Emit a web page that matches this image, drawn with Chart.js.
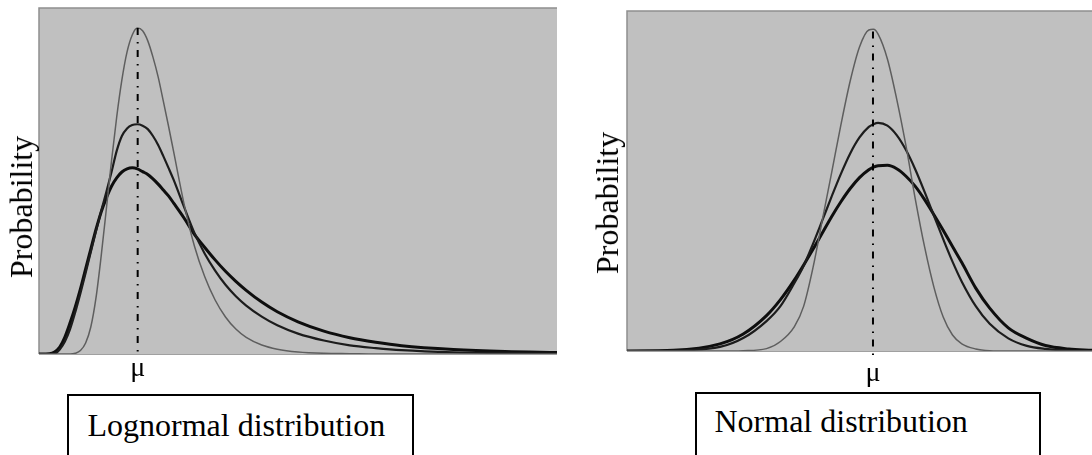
<!DOCTYPE html>
<html><head><meta charset="utf-8">
<script src="https://cdn.jsdelivr.net/npm/chart.js@4.4.1/dist/chart.umd.min.js"></script>
<style>
html,body{margin:0;padding:0;background:#fff;width:1092px;height:455px;overflow:hidden;}
#wrap{position:relative;width:1092px;height:455px;}
canvas{position:absolute;}
.t{position:absolute;font-family:"Liberation Serif","Times New Roman",serif;color:#000;white-space:nowrap;}
.ylab{font-size:32px;line-height:32px;transform:translate(-50%,-50%) rotate(-90deg);}
.mu{font-size:28px;line-height:28px;width:60px;text-align:center;}
.box{position:absolute;border:2px solid #000;box-sizing:border-box;height:120px;}
.btxt{font-size:32px;line-height:32px;}
</style></head><body>
<div id="wrap">
<canvas id="c1" width="560" height="360" style="left:0px;top:0px"></canvas>
<canvas id="c2" width="492" height="360" style="left:600px;top:0px"></canvas>
<div class="t ylab" id="yl1" style="left:20.7px;top:207px"></div>
<div class="t ylab" id="yl2" style="left:606.7px;top:203px"></div>
<div class="t mu" id="mu1"></div>
<div class="t mu" id="mu2"></div>
<div class="box" style="left:66.5px;top:394px;width:347px"></div>
<div class="box" style="left:695px;top:392px;width:346px"></div>
<div class="t btxt" id="bt1" style="left:87.5px;top:409.2px"></div>
<div class="t btxt" id="bt2" style="left:714.5px;top:405.2px"></div>
</div>
<script>
// ---- text ----
const Y_TITLE = 'Probability';
const MU_LABEL = '\u03BC';
const PANEL_TITLES = ['Lognormal distribution', 'Normal distribution'];

// ---- Lognormal panel (x: 0-100 across the panel, y: 0-1 of panel height) ----
const LOG_MU = 19.05;
const LOG_MU_TOP = 0.942;
const LOG_X = [0, 2, 3, 4, 5, 6, 7, 8, 9, 10, 11, 12, 13, 14, 15, 16, 17, 18, 19, 20, 21, 22, 23, 24, 25, 26, 28, 30, 32, 34, 36, 38, 40, 43, 46, 50, 55, 60, 65, 70, 80, 90, 100];
const LOG_NARROW = [0, 0, 0, 0, 0, 0, 0.002, 0.010, 0.032, 0.078, 0.162, 0.283, 0.419, 0.558, 0.685, 0.792, 0.873, 0.922, 0.942, 0.934, 0.905, 0.858, 0.801, 0.731, 0.659, 0.584, 0.434, 0.312, 0.223, 0.156, 0.107, 0.072, 0.048, 0.026, 0.014, 0.006, 0.002, 0.001, 0, 0, 0, 0, 0];
const LOG_MEDIUM = [0, 0, 0.001, 0.013, 0.036, 0.072, 0.121, 0.176, 0.234, 0.295, 0.355, 0.413, 0.468, 0.526, 0.587, 0.630, 0.652, 0.662, 0.664, 0.660, 0.650, 0.630, 0.604, 0.572, 0.538, 0.503, 0.425, 0.350, 0.290, 0.241, 0.200, 0.167, 0.140, 0.108, 0.083, 0.059, 0.039, 0.025, 0.017, 0.011, 0.005, 0.003, 0.001];
const LOG_WIDE = [0, 0.001, 0.006, 0.020, 0.049, 0.090, 0.136, 0.188, 0.246, 0.303, 0.360, 0.410, 0.451, 0.485, 0.509, 0.526, 0.535, 0.538, 0.535, 0.527, 0.519, 0.506, 0.491, 0.474, 0.457, 0.436, 0.393, 0.346, 0.308, 0.272, 0.239, 0.210, 0.184, 0.150, 0.122, 0.093, 0.066, 0.047, 0.034, 0.024, 0.013, 0.007, 0.004];

// ---- Normal panel ----
const NORM_MU = 52.9;
const NORM_MU_TOP = 0.94;
const NORM_X = [0, 10, 20, 25, 30, 33, 36, 38, 40, 42, 44, 46, 48, 50, 52, 53, 54, 56, 58, 60, 62, 64, 66, 68, 70, 72, 75, 78, 82, 86, 90, 95, 100];
const NORM_NARROW = [0, 0, 0, 0.001, 0.007, 0.028, 0.072, 0.132, 0.245, 0.385, 0.524, 0.665, 0.794, 0.894, 0.944, 0.946, 0.932, 0.859, 0.741, 0.603, 0.447, 0.306, 0.188, 0.100, 0.047, 0.021, 0.006, 0.001, 0, 0, 0, 0, 0];
const NORM_MEDIUM = [0, 0.0015, 0.012, 0.038, 0.088, 0.132, 0.200, 0.251, 0.315, 0.384, 0.454, 0.521, 0.581, 0.628, 0.659, 0.667, 0.671, 0.663, 0.635, 0.591, 0.534, 0.468, 0.398, 0.329, 0.263, 0.204, 0.132, 0.080, 0.037, 0.015, 0.006, 0.001, 0];
const NORM_WIDE = [0, 0.002, 0.021, 0.050, 0.104, 0.151, 0.209, 0.253, 0.299, 0.347, 0.395, 0.439, 0.478, 0.510, 0.533, 0.541, 0.545, 0.546, 0.536, 0.514, 0.484, 0.445, 0.401, 0.355, 0.307, 0.260, 0.185, 0.126, 0.068, 0.037, 0.016, 0.006, 0.002];

const zip = (xs, ys) => xs.map((x, i) => ({x, y: ys[i]}));

const panelBg = {
  id: 'panelBg',
  beforeDatasetsDraw(chart) {
    const {ctx, chartArea: a} = chart;
    ctx.save();
    ctx.fillStyle = '#c0c0c0';
    ctx.fillRect(a.left, a.top, a.right - a.left, a.bottom - a.top);
    ctx.strokeStyle = '#8e8e8e';
    ctx.lineWidth = 1.5;
    ctx.beginPath();
    ctx.moveTo(a.left, a.bottom);
    ctx.lineTo(a.left, a.top);
    ctx.lineTo(a.right, a.top);
    ctx.stroke();
    ctx.strokeStyle = '#a0a0a0';
    ctx.lineWidth = 1;
    ctx.beginPath();
    ctx.moveTo(a.left, a.bottom + 0.5);
    ctx.lineTo(a.right, a.bottom + 0.5);
    ctx.stroke();
    ctx.restore();
  }
};

function curve(data, color, width) {
  return {data, borderColor: color, borderWidth: width, pointRadius: 0,
          cubicInterpolationMode: 'monotone', fill: false};
}

function makePanel(id, mu, muTop, muBottom, series, padding) {
  return new Chart(document.getElementById(id), {
    type: 'line',
    data: {
      datasets: [
        {data: [{x: mu, y: muTop}, {x: mu, y: muBottom}], borderColor: '#000', borderWidth: 2,
         borderDash: [7, 7, 1.5, 6.5], pointRadius: 0, clip: false, fill: false},
        curve(series[0], '#5e5e5e', 1.5),
        curve(series[1], '#1c1c1c', 2.2),
        curve(series[2], '#0e0e0e', 3)
      ]
    },
    options: {
      responsive: false, animation: false, events: [],
      layout: {padding},
      plugins: {legend: {display: false}, tooltip: {enabled: false}},
      scales: {
        x: {type: 'linear', min: 0, max: 100, display: false},
        y: {type: 'linear', min: 0, max: 1, display: false}
      }
    },
    plugins: [panelBg]
  });
}

const c1 = makePanel('c1', LOG_MU, LOG_MU_TOP, 0,
  [zip(LOG_X, LOG_NARROW), zip(LOG_X, LOG_MEDIUM), zip(LOG_X, LOG_WIDE)],
  {left: 39, top: 8, right: 3, bottom: 6});
const c2 = makePanel('c2', NORM_MU, NORM_MU_TOP, -0.015,
  [zip(NORM_X, NORM_NARROW), zip(NORM_X, NORM_MEDIUM), zip(NORM_X, NORM_WIDE)],
  {left: 27, top: 11, right: 0, bottom: 9});

document.getElementById('yl1').textContent = Y_TITLE;
document.getElementById('yl2').textContent = Y_TITLE;
document.getElementById('bt1').textContent = PANEL_TITLES[0];
document.getElementById('bt2').textContent = PANEL_TITLES[1];

function placeMu(elId, chart, canvasLeft, mu, top) {
  const el = document.getElementById(elId);
  el.textContent = MU_LABEL;
  el.style.left = (canvasLeft + chart.scales.x.getPixelForValue(mu) - 30) + 'px';
  el.style.top = top + 'px';
}
placeMu('mu1', c1, 0, LOG_MU, 352.5);
placeMu('mu2', c2, 600, NORM_MU, 357.5);
</script>
</body></html>
